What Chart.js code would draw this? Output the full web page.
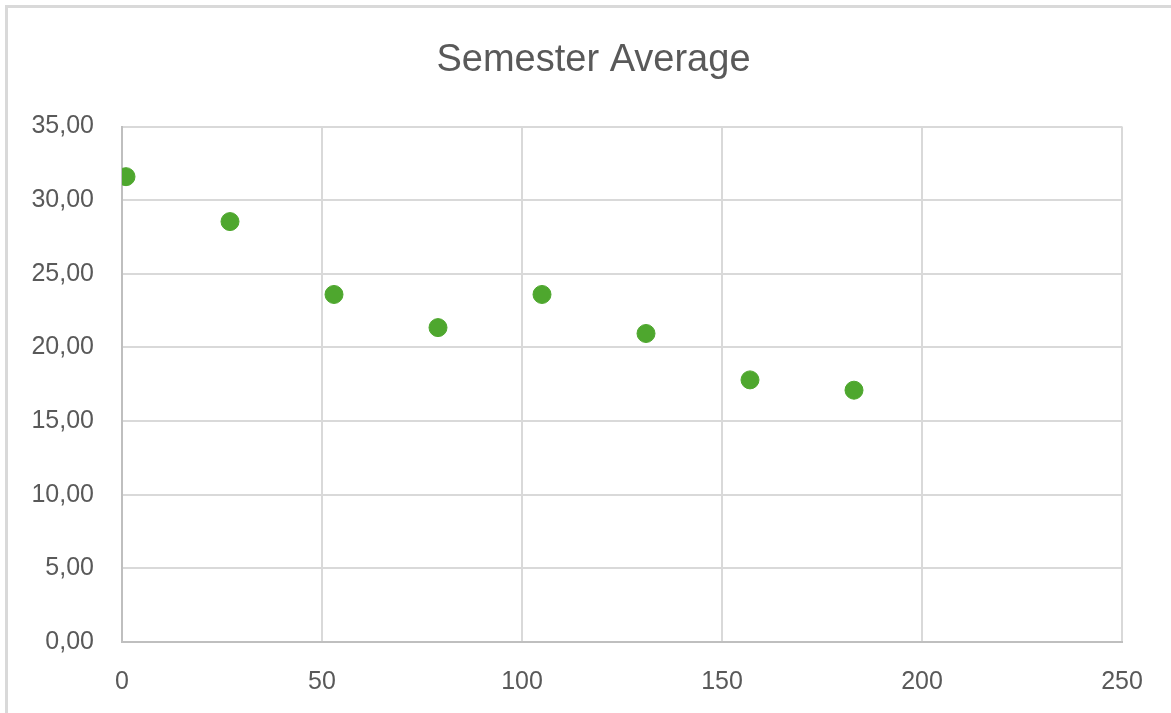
<!DOCTYPE html>
<html>
<head>
<meta charset="utf-8">
<title>Semester Average</title>
<script src="https://cdn.jsdelivr.net/npm/chart.js@4/dist/chart.umd.min.js"></script>
<style>
    html, body { margin: 0; padding: 0; background: #fff; overflow: hidden; }
    #wrap { position: relative; width: 1171px; height: 713px; }
    #frame {
        position: absolute; left: 5px; top: 5px; width: 1300px; height: 900px;
        border: 3px solid #d9d9d9; box-sizing: border-box;
    }
    canvas { position: absolute; left: 0; top: 0; }
</style>
</head>
<body>
<div id="wrap">
    <div id="frame"></div>
    <canvas id="chAvg" width="1171" height="713"></canvas>
</div>
<script>
// semester averages
var weeks = [1, 27, 53, 79, 105, 131, 157, 183];
var averages = [31.6, 28.55, 23.6, 21.35, 23.6, 20.95, 17.8, 17.1];

// axis ranges
var xTicks = [0, 50, 100, 150, 200, 250];
var yTicks = [0, 5, 10, 15, 20, 25, 30, 35];

var points = weeks.map(function (w, i) {
    return { x: w, y: averages[i] };
});

var gridColor = '#d9d9d9';
var axisColor = '#bfbfbf';
var textColor = '#595959';
var fontFamily = "'Liberation Sans', Arial, sans-serif";

new Chart(document.getElementById('chAvg'), {
    type: 'scatter',
    data: {
        datasets: [{
            label: 'Semester Average',
            data: points,
            backgroundColor: '#4ea72e',
            borderColor: '#4ea72e',
            pointRadius: 9,
            pointHoverRadius: 9
        }]
    },
    options: {
        responsive: false,
        animation: false,
        layout: { padding: { left: 16, right: 0, top: 0, bottom: 0 } },
        plugins: {
            legend: { display: false },
            tooltip: { enabled: false },
            title: {
                display: true,
                text: 'Semester Average',
                color: textColor,
                font: { family: fontFamily, size: 38, weight: 'normal', lineHeight: 1.2 },
                padding: { top: 38, bottom: 43 }
            }
        },
        scales: {
            x: {
                type: 'linear',
                min: xTicks[0],
                max: xTicks[xTicks.length - 1],
                afterBuildTicks: function (axis) {
                    axis.ticks = xTicks.map(function (v) { return { value: v }; });
                },
                afterFit: function (axis) {
                    axis.height = 71;
                    axis.paddingRight = 49; // room right of the plot
                },
                grid: { color: gridColor, lineWidth: 2, drawTicks: false },
                border: { color: axisColor, width: 2 },
                ticks: {
                    color: textColor,
                    padding: 25,
                    maxRotation: 0,
                    font: { family: fontFamily, size: 25 }
                }
            },
            y: {
                type: 'linear',
                min: yTicks[0],
                max: yTicks[yTicks.length - 1],
                afterBuildTicks: function (axis) {
                    axis.ticks = yTicks.map(function (v) { return { value: v }; });
                },
                afterFit: function (axis) { axis.width = 106; },
                grid: { color: gridColor, lineWidth: 2, drawTicks: false },
                border: { color: axisColor, width: 2 },
                ticks: {
                    color: textColor,
                    padding: 28,
                    font: { family: fontFamily, size: 25 },
                    callback: function (v) { return v.toFixed(2).replace('.', ','); }
                }
            }
        }
    }
});
</script>
</body>
</html>
